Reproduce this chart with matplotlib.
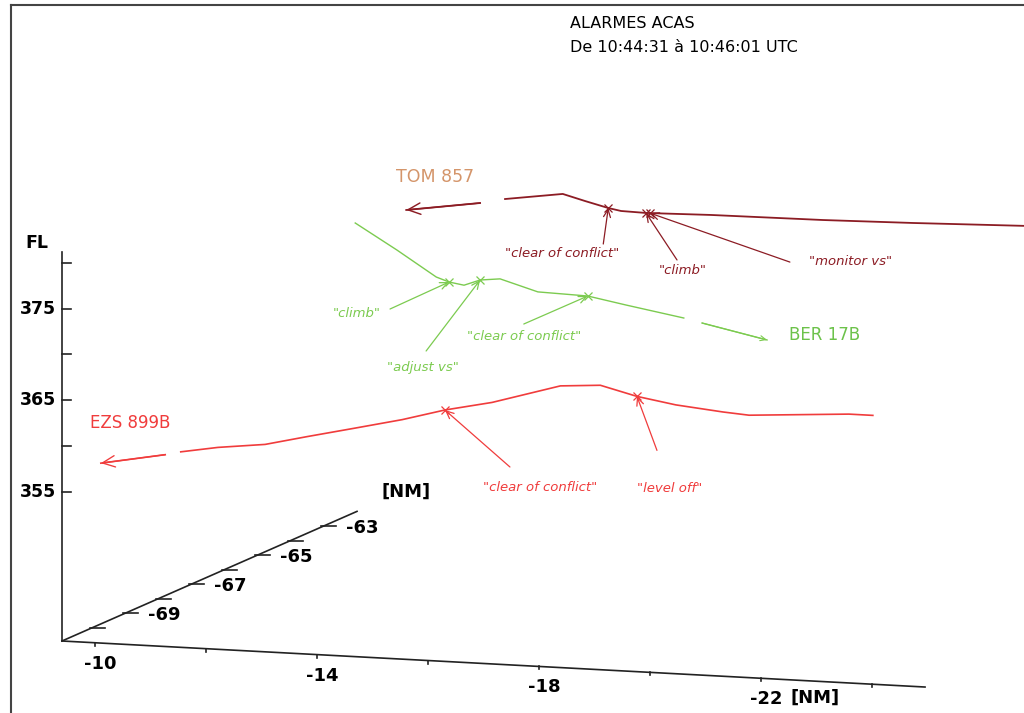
import numpy as np
import matplotlib.pyplot as plt

# ACAS alarms, oblique 3D view: x (NM), y (NM, depth), FL
nan = np.nan

# EZS 899B (depth -69 NM)
ezs_x = [-8.97, -10.13, nan, -10.41, -11.08, -11.93, -12.69, -13.55, -14.40, -15.17,
         -16.02, -17.25, -17.97, -18.63, -19.33, -20.18, -20.65, -22.45, -22.88]
ezs_fl = [355.0, 356.3, nan, 356.7, 357.4, 358.0, 359.1, 360.3, 361.5, 362.8,
          363.9, 366.1, 366.4, 365.4, 364.7, 364.2, 364.0, 364.7, 364.7]
ezs_y = -69

# BER 17B (depth -66 NM)
ber_x = [-11.77, -12.52, -13.23, -13.46, -13.73, -14.02, -14.38, -15.06, -15.96,
         -16.65, -17.69, nan, -18.02, -19.19]
ber_fl = [377.35, 374.65, 371.93, 371.46, 371.2, 371.86, 372.1, 370.9, 370.74,
          369.98, 368.9, nan, 368.46, 366.99]
ber_y = -66

# TOM 857 (depth -64 NM)
tom_x = [-11.50, -12.83, nan, -13.28, -14.32, -14.72, -15.14, -15.37, -15.82,
         -16.99, -19.01, -20.63, -22.74]
tom_fl = [375.52, 376.71, nan, 377.29, 378.18, 377.54, 376.91, 376.66, 376.59,
          376.75, 376.85, 377.05, 377.4]
tom_y = -64

# ACAS messages: (text, x, fl)
ezs_msgs = [('"clear of conflict"', -15.17, 362.8), ('"level off"', -18.63, 365.4)]
ber_msgs = [('"climb"', -13.46, 371.46), ('"adjust vs"', -14.02, 371.86),
            ('"clear of conflict"', -15.96, 370.74)]
tom_msgs = [('"clear of conflict"', -15.14, 376.91), ('"climb"', -15.82, 376.59),
            ('"monitor vs"', -15.89, 376.6)]

fl_ticks = [355, 365, 375]
fl_minor = [355, 360, 365, 370, 375, 380]
x_ticks = [-10, -12, -14, -16, -18, -20, -22, -24]
x_labels = [-10, -14, -18, -22]
y_ticks = [-70, -69, -68, -67, -66, -65, -64, -63]
y_labels = [-69, -67, -65, -63]

# projection (pixels)
X0, Y0, FL0 = -9.4, -70.9, 338.75
OX, OY = 62, 641


def proj(x, y, fl):
    a = X0 - np.asarray(x, dtype=float)
    d = np.asarray(y, dtype=float) - Y0
    px = OX + a * 55.5 + d * 33
    py = OY + a * 2.96 - d * 14.5 - (np.asarray(fl, dtype=float) - FL0) * 9.17
    return px, py


fig = plt.figure(figsize=(10.24, 7.13), dpi=100)
ax = fig.add_axes([0, 0, 1, 1])
ax.set_xlim(0, 1024)
ax.set_ylim(713, 0)
ax.axis('off')

# frame
ax.plot([11, 11], [5, 713], color='#444444', lw=1.5)
ax.plot([11, 1024], [5, 5], color='#444444', lw=1.5)

ax.text(570, 24, 'ALARMES ACAS', fontsize=11.5, va='center', ha='left')
ax.text(570, 47, 'De 10:44:31 à 10:46:01 UTC', fontsize=11.5, va='center', ha='left')

# axes
fl_top = 381.2
px, py = proj([X0, X0], [Y0, Y0], [FL0, fl_top])
ax.plot(px, py, color='#222222', lw=1.2)
for f in fl_minor:
    px, py = proj(X0, Y0, f)
    ax.plot([px, px + 9], [py, py], color='#222222', lw=1.2)
for f in fl_ticks:
    px, py = proj(X0, Y0, f)
    ax.text(px - 6, py, str(f), fontsize=12.5, fontweight='bold', ha='right', va='center')
px, py = proj(X0, Y0, fl_top)
ax.text(px - 25, py - 9, 'FL', fontsize=12.5, fontweight='bold', ha='center', va='center')

px, py = proj([X0, -24.95], [Y0, Y0], [FL0, FL0])
ax.plot(px, py, color='#222222', lw=1.2)
for t in x_ticks:
    px, py = proj(t, Y0, FL0)
    ax.plot([px, px], [py, py + 3], color='#222222', lw=1.2)
for t in x_labels:
    px, py = proj(t, Y0, FL0)
    ax.text(px + 5, py + 21, str(t), fontsize=13, fontweight='bold', ha='center', va='center')
px, py = proj(-22, Y0, FL0)
ax.text(px + 54, py + 19, '[NM]', fontsize=13, fontweight='bold', ha='center', va='center')

px, py = proj([X0, X0], [Y0, -61.96], [FL0, FL0])
ax.plot(px, py, color='#222222', lw=1.2)
for t in y_ticks:
    px, py = proj(X0, t, FL0)
    ax.plot([px - 2, px + 13], [py, py], color='#222222', lw=1.2)
for t in y_labels:
    px, py = proj(X0, t, FL0)
    ax.text(px + 23, py + 2, str(t), fontsize=13, fontweight='bold', ha='left', va='center')
px, py = proj(X0, -61.96, FL0)
ax.text(px + 49, py - 20, '[NM]', fontsize=13, fontweight='bold', ha='center', va='center')


def track(xs, fls, depth, color, lw, head_at_start=True, head=0.9):
    px, py = proj(xs, [depth] * len(xs), fls)
    ax.plot(px, py, color=color, lw=lw)
    if head_at_start:
        tip, tail = (px[0], py[0]), (px[1], py[1])
    else:
        tip, tail = (px[-1], py[-1]), (px[-2], py[-2])
    ax.annotate('', xy=tip, xytext=tail,
                arrowprops=dict(arrowstyle='->,head_length=%.2f,head_width=%.2f' % (head, head * 0.45),
                                color=color, lw=lw * 0.8, shrinkA=0, shrinkB=0))


# offsets (pixels) of line start and of label, from the message point
ezs_off = [((65, 57), (95, 78)), ((20, 54), (33, 92))]
ber_off = [((-59, 27), (-92, 31)), ((-54, 71), (-57, 87)), ((-64, 28), (-64, 40))]
tom_off = [((-5, 36), (-46, 45)), ((31, 47), (37, 58)), ((140, 49), (201, 48))]


def messages(msgs, offs, depth, color):
    for (txt, x, f), ((sx, sy), (tx, ty)) in zip(msgs, offs):
        px, py = proj(x, depth, f)
        ax.annotate('', xy=(px, py), xytext=(px + sx, py + sy),
                    arrowprops=dict(arrowstyle='->,head_length=0.55,head_width=0.25',
                                    color=color, lw=0.9, shrinkA=0, shrinkB=0))
        ax.plot(px, py, marker='x', ms=6, mew=0.9, color=color)
        ax.text(px + tx, py + ty, txt, fontsize=9.5, style='italic', color=color,
                ha='center', va='center')


track(ezs_x, ezs_fl, ezs_y, '#f03c3c', 1.2)
track(ber_x, ber_fl, ber_y, '#7ccb50', 1.0, head_at_start=False, head=0.4)
track(tom_x, tom_fl, tom_y, '#8c1c24', 1.3)

messages(ezs_msgs, ezs_off, ezs_y, '#f03c3c')
messages(ber_msgs, ber_off, ber_y, '#7ccb50')
messages(tom_msgs, tom_off, tom_y, '#8c1c24')

ax.text(130, 423, 'EZS 899B', fontsize=12, color='#f03c3c', ha='center', va='center')
ax.text(789, 335, 'BER 17B', fontsize=12, color='#6cc24a', ha='left', va='center')
ax.text(435, 177, 'TOM 857', fontsize=12.5, color='#d4956a', ha='center', va='center')

fig.savefig('out.png', dpi=100)
